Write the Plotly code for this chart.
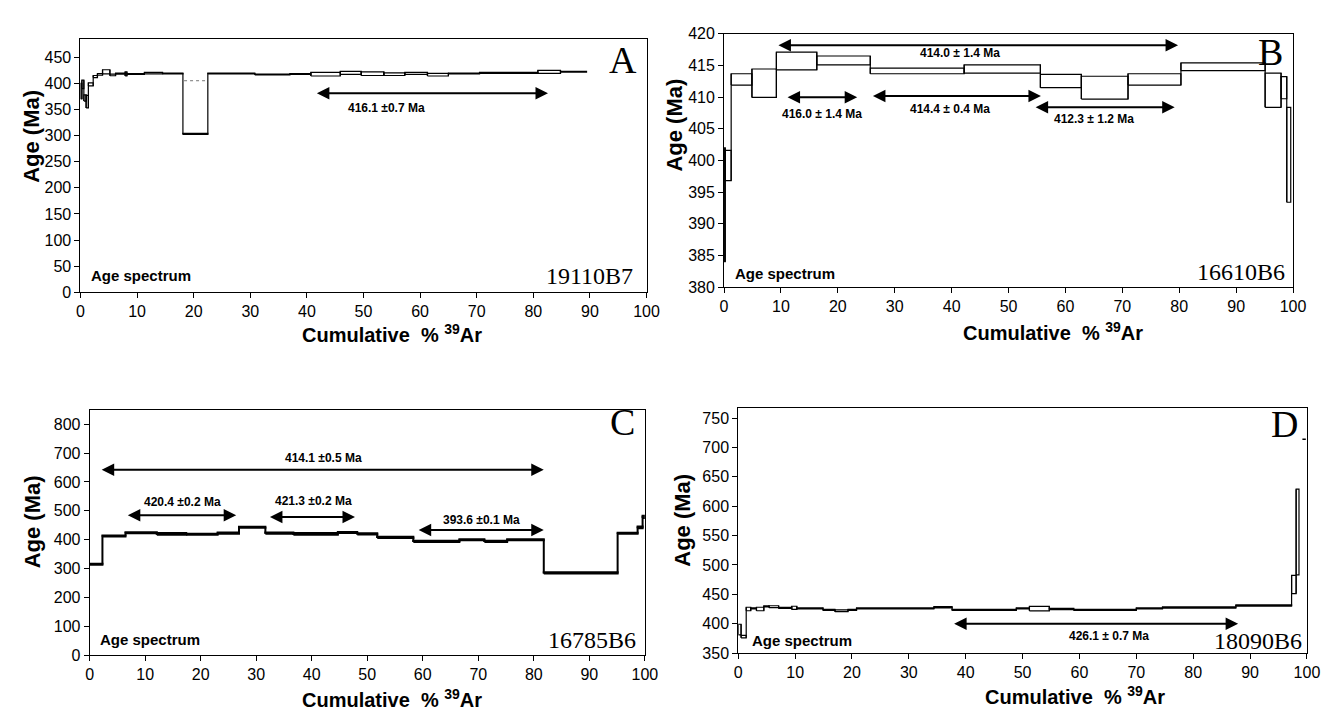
import plotly.graph_objects as go

# ---------------- data (cumulative %39Ar step edges, ages, half-errors) ----------------
A_edges = [0, 0.25, 0.6, 1.0, 1.4, 2.25, 3.0, 3.9, 5.2, 6.2, 7.9, 8.2, 11.3, 14.5, 18.1, 22.5,
           30.8, 37.0, 40.7, 45.9, 49.6, 53.6, 57.3, 61.3, 65.0, 70.5, 80.8, 84.8, 89.4]
A_age = [385, 398, 372, 365, 398, 413, 417, 422, 416, 418.5, 418, 418, 419.5, 419, 303,
         419, 417, 418, 417.5, 420, 418.5, 417.5, 419, 416.5, 419, 420, 422, 422]
A_err = [15, 8, 6, 12, 3, 2, 1.5, 4, 1.5, 1, 4, 0.8, 1.5, 0.8, 1,
         0.8, 0.8, 0.8, 3.5, 3, 3.5, 2.5, 2, 2.5, 0.8, 0.8, 3, 0.8]
A_dot_x = [18.3, 22.4]
A_dot_y = [405, 405]

B_edges = [0, 0.2, 1.25, 4.9, 9.2, 16.3, 25.7, 42.2, 55.6, 62.8, 71.0, 80.3, 95.1, 97.9, 98.9, 99.6]
B_age = [393, 399.2, 412.8, 412.2, 415.7, 415.8, 414.15, 414.45, 412.55, 411.5, 412.8, 414.8, 411.1, 411.5, 400.9]
B_err = [9, 2.4, 0.9, 2.25, 1.4, 0.7, 0.45, 0.65, 1.05, 1.8, 0.9, 0.6, 2.7, 1.75, 7.5]

C_edges = [0, 2.3, 6.45, 12.1, 17.4, 23.05, 26.9, 31.65, 36.7, 44.7, 48.2, 51.8, 58.3, 66.6,
           71.1, 75.2, 81.8, 95.1, 98.7, 99.6, 100]
C_age = [315, 413, 424, 420, 419, 423, 443, 423, 420.5, 425, 420, 408, 394.5, 400, 394.5, 400,
         285, 422.5, 443, 479]
C_err = [2, 2, 2, 3, 2, 2, 2, 2, 3, 2, 2, 2, 2, 2, 2, 2, 2, 2, 3, 4]

D_edges = [0, 0.5, 1.4, 2.2, 3.2, 4.5, 5.4, 7.1, 9.4, 10.3, 14.9, 17.0, 19.3, 20.8, 34.4, 37.6,
           48.9, 51.2, 54.7, 59.0, 70.0, 74.6, 87.5, 97.3, 98.1, 98.6]
D_age = [390, 378, 425, 426, 425, 429.4, 429, 427, 427, 426, 423.6, 422, 423.6, 426, 428, 423.6,
         426, 425.6, 425, 423.6, 426, 427.6, 430.9, 466.7, 556]
D_err = [9, 2, 3, 1, 3, 1, 1.5, 1, 2.7, 1, 1, 1.5, 1, 1, 1, 1, 1, 3.7, 1, 1, 1, 1, 1, 15.5, 73]
D_extra_x = [99.2, 99.8]
D_extra_y = [714, 714]

# plateau arrows: (start %, end %, level age, label, label x, label y)
A_plateaus = [(41.5, 82.6, 381, "416.1 ±0.7 Ma", 54, 353)]
B_plateaus = [(9.3, 79.8, 418.2, "414.0 ± 1.4 Ma", 41.4, 416.9),
              (10.9, 23.4, 410.0, "416.0 ± 1.4 Ma", 17.2, 407.4),
              (25.9, 55.7, 410.2, "414.4 ± 0.4 Ma", 39.7, 408.2),
              (54.5, 79.2, 408.4, "412.3 ± 1.2 Ma", 65.0, 406.5)]
C_plateaus = [(1.9, 81.8, 642, "414.1 ±0.5 Ma", 42.1, 682),
              (6.6, 26.4, 484.5, "420.4 ±0.2 Ma", 16.7, 529),
              (32.2, 47.8, 479, "421.3 ±0.2 Ma", 40.4, 534),
              (59.0, 81.8, 434, "393.6 ±0.1 Ma", 70.6, 467)]
D_plateaus = [(37.7, 87.9, 399.8, "426.1 ± 0.7 Ma", 65.2, 379)]

panels = [
    dict(key="", edges=A_edges, age=A_age, err=A_err, plats=A_plateaus, yr=[0, 484], dt=50, t0=0,
         letter="A", lx=95.8, ly=444, sid="19110B7", sx=98, sy=32, asx=1.5, asy=33, lw=1.2,
         dom_x=[0.0521, 0.4829], dom_y=[0.6008, 0.9661]),
    dict(key="2", edges=B_edges, age=B_age, err=B_err, plats=B_plateaus, yr=[380, 420], dt=5, t0=380,
         letter="B", lx=96.1, ly=417.2, sid="16610B6", sx=98.9, sy=382.3, asx=1.6, asy=382.2, lw=1.2,
         dom_x=[0.5419, 0.9749], dom_y=[0.6083, 0.9742]),
    dict(key="3", edges=C_edges, age=C_age, err=C_err, plats=C_plateaus, yr=[0, 848], dt=100, t0=0,
         letter="C", lx=96, ly=806, sid="16785B6", sx=98.7, sy=53, asx=1.5, asy=53, lw=2,
         dom_x=[0.0591, 0.4816], dom_y=[0.0762, 0.4302]),
    dict(key="4", edges=D_edges, age=D_age, err=D_err, plats=D_plateaus, yr=[350, 767], dt=50, t0=350,
         letter="D", lx=96, ly=740, sid="18090B6", sx=99.4, sy=371, asx=2.1, asy=371, lw=1.2,
         dom_x=[0.5527, 0.9855], dom_y=[0.0794, 0.4334]),
]

ytitle_pos = [(0.0143, 0.8265), (0.504, 0.842), (0.0158, 0.2694), (0.510, 0.2708)]
xtitle_pos = [(0.2893, 0.5405), (0.7926, 0.5435), (0.2893, 0.0141), (0.8092, 0.0183)]


def spectrum_xy(edges, age, err):
    xs, ys = [], []
    n = len(age)
    for i in range(n):
        x0, x1 = edges[i], edges[i + 1]
        lo, hi = age[i] - err[i], age[i] + err[i]
        xs += [x0, x1, x1, x0, x0, None]
        ys += [lo, lo, hi, hi, lo, None]
        if i < n - 1:
            lo2, hi2 = age[i + 1] - err[i + 1], age[i + 1] + err[i + 1]
            xs += [x1, x1, None]
            ys += [min(lo, lo2), max(hi, hi2), None]
    return xs, ys


fig = go.Figure()
annotations = []
SANS = "Liberation Sans, Arial, sans-serif"
NARROW = "Liberation Sans Narrow, Arial Narrow, Liberation Sans, Arial, sans-serif"
SERIF = "Liberation Serif, Times New Roman, serif"

axis_common = dict(showline=True, linecolor="black", linewidth=1, mirror=True, ticks="outside",
                   ticklen=5, tickcolor="black", showgrid=False, zeroline=False,
                   tickfont=dict(family=SANS, size=16, color="black"))

layout_axes = {}
for i, p in enumerate(panels):
    k = p["key"]
    xref = "x" + k
    yref = "y" + k
    xs, ys = spectrum_xy(p["edges"], p["age"], p["err"])
    fig.add_trace(go.Scatter(x=xs, y=ys, mode="lines", line=dict(color="black", width=p["lw"]),
                             xaxis=xref, yaxis=yref, showlegend=False, hoverinfo="skip"))
    layout_axes["xaxis" + k] = dict(axis_common, domain=p["dom_x"], range=[0, 100], dtick=10, tick0=0,
                                    anchor=yref)
    layout_axes["yaxis" + k] = dict(axis_common, domain=p["dom_y"], range=p["yr"], dtick=p["dt"],
                                    tick0=p["t0"], anchor=xref)
    # plateau arrows and labels
    for (s, e, lv, lab, tx, ty) in p["plats"]:
        annotations.append(dict(x=e, y=lv, ax=s, ay=lv, xref=xref, yref=yref, axref=xref, ayref=yref,
                                showarrow=True, arrowhead=2, startarrowhead=2, arrowside="end+start",
                                arrowsize=1.25, startarrowsize=1.25, arrowwidth=2, arrowcolor="black",
                                text="", standoff=0, startstandoff=0))
        annotations.append(dict(x=tx, y=ty, xref=xref, yref=yref, showarrow=False,
                                text="<b>" + lab + "</b>", xanchor="center", yanchor="middle",
                                font=dict(family=NARROW, size=12, color="black")))
    # panel letter
    annotations.append(dict(x=p["lx"], y=p["ly"], xref=xref, yref=yref, showarrow=False, text=p["letter"],
                            xanchor="center", yanchor="middle",
                            font=dict(family=SERIF, size=38, color="black")))
    # sample id
    annotations.append(dict(x=p["sx"], y=p["sy"], xref=xref, yref=yref, showarrow=False, text=p["sid"],
                            xanchor="right", yanchor="middle",
                            font=dict(family=SERIF, size=24, color="black")))
    # age spectrum label
    annotations.append(dict(x=p["asx"], y=p["asy"], xref=xref, yref=yref, showarrow=False,
                            text="<b>Age spectrum</b>", xanchor="left", yanchor="middle",
                            font=dict(family=SANS, size=15, color="black")))
    # axis titles
    yx, yy = ytitle_pos[i]
    annotations.append(dict(x=yx, y=yy, xref="paper", yref="paper", showarrow=False,
                            text="<b>Age (Ma)</b>", textangle=-90, xanchor="center", yanchor="middle",
                            font=dict(family=SANS, size=22, color="black")))
    xx, xy = xtitle_pos[i]
    annotations.append(dict(x=xx, y=xy, xref="paper", yref="paper", showarrow=False,
                            text="<b>Cumulative&nbsp;&nbsp;% <sup>39</sup>Ar</b>",
                            xanchor="center", yanchor="middle",
                            font=dict(family=SANS, size=20, color="black")))

# extra traces
fig.add_trace(go.Scatter(x=A_dot_x, y=A_dot_y, mode="lines", line=dict(color="#777", width=1, dash="dot"),
                         xaxis="x", yaxis="y", showlegend=False, hoverinfo="skip"))
fig.add_trace(go.Scatter(x=D_extra_x, y=D_extra_y, mode="lines", line=dict(color="black", width=1.5),
                         xaxis="x4", yaxis="y4", showlegend=False, hoverinfo="skip"))

fig.update_layout(width=1331, height=709, margin=dict(l=0, r=0, t=0, b=0),
                  paper_bgcolor="white", plot_bgcolor="white", annotations=annotations,
                  **layout_axes)

fig.write_html("out.html")
